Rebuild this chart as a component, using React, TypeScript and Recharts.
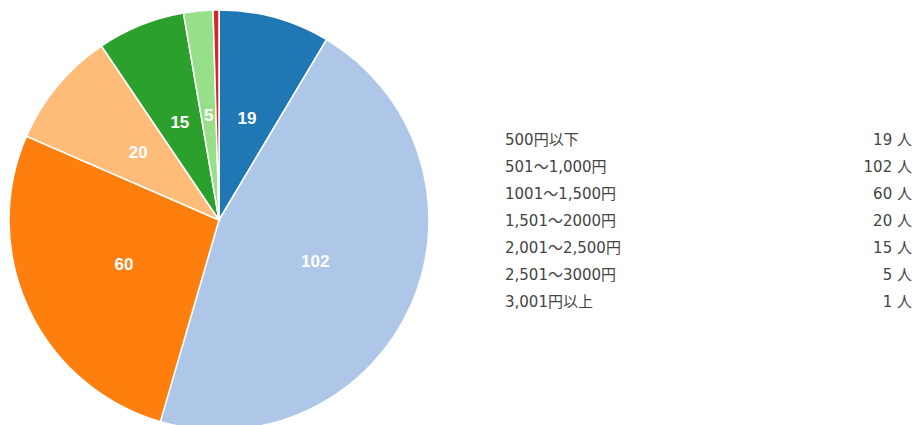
import React from 'react';
import { PieChart, Pie, Cell, Legend } from 'recharts';

const categories = ['500円以下', '501～1,000円', '1001～1,500円', '1,501～2000円', '2,001～2,500円', '2,501～3000円', '3,001円以上'];
const counts = [19, 102, 60, 20, 15, 5, 1];
const unit = '人';
const COLORS = ['#1f77b4', '#aec7e8', '#ff7f0e', '#ffbb78', '#2ca02c', '#98df8a', '#d62728'];

const data = categories.map((name, i) => ({ name, value: counts[i] }));

const RADIAN = Math.PI / 180;

const renderLabel = (props: any) => {
  const { cx, cy, midAngle, outerRadius, value } = props;
  // tiny slices get no label
  if (value < 3) return null;
  const r = outerRadius * 0.5;
  const x = cx + r * Math.cos(-midAngle * RADIAN);
  const y = cy + r * Math.sin(-midAngle * RADIAN);
  return (
    <text x={x} y={y} fill="#ffffff" textAnchor="middle" dominantBaseline="central"
      fontFamily="'Liberation Sans', Arial, sans-serif" fontSize={17} fontWeight="bold">
      {value}
    </text>
  );
};

const LegendTable = () => (
  <div style={{ width: 407, fontFamily: "'DejaVu Sans', Verdana, 'Noto Sans CJK JP', sans-serif", fontSize: 15, color: '#444' }}>
    {data.map((d) => (
      <div key={d.name} style={{ display: 'flex', justifyContent: 'space-between', height: 27, lineHeight: '27px' }}>
        <span>{d.name}</span>
        <span>{d.value} {unit}</span>
      </div>
    ))}
  </div>
);

export default function App() {
  return (
    <div style={{ position: 'absolute', left: 0, top: 0, width: 917, height: 425, overflow: 'hidden', background: '#fff' }}>
      <PieChart width={917} height={425} margin={{ top: 0, right: 0, bottom: 0, left: 0 }}>
        <Pie
          data={data}
          dataKey="value"
          nameKey="name"
          cx={219}
          cy={220}
          outerRadius={210}
          startAngle={90}
          endAngle={-270}
          stroke="#ffffff"
          strokeWidth={1.5}
          labelLine={false}
          label={renderLabel}
          isAnimationActive={false}
        >
          {data.map((entry, index) => (
            <Cell key={`cell-${index}`} fill={COLORS[index % COLORS.length]} />
          ))}
        </Pie>
        <Legend
          layout="vertical"
          content={() => <LegendTable />}
          wrapperStyle={{ left: 505, top: 127, width: 407 }}
        />
      </PieChart>
    </div>
  );
}
